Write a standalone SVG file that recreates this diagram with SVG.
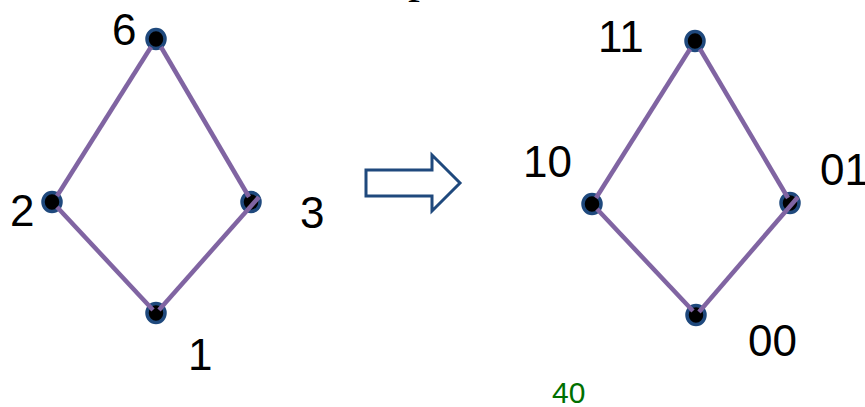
<svg xmlns="http://www.w3.org/2000/svg" width="865" height="407" viewBox="0 0 865 407">
<style>
.lbl{font-family:"Liberation Sans",Arial,sans-serif;font-size:44px;fill:#000}
.dot{fill:#000;stroke:#1F497D;stroke-width:3.5}
.edge{stroke:#8064A2;stroke-width:4.5;stroke-linecap:butt;fill:none}
</style>
<rect width="865" height="407" fill="#fff"/>
<text x="408" y="-8" style="font-family:'Liberation Serif','Times New Roman',serif;font-size:48px" fill="#000">p</text>
<g id="n6"><ellipse class="dot" cx="156" cy="39" rx="9" ry="9.5"/><text class="lbl" x="112" y="45">6</text></g>
<g id="n2"><ellipse class="dot" cx="52" cy="202" rx="9" ry="9.5"/><text class="lbl" x="10" y="226">2</text></g>
<g id="n3"><ellipse class="dot" cx="251" cy="202" rx="9" ry="9.5"/><text class="lbl" x="300" y="228">3</text></g>
<g id="n1"><ellipse class="dot" cx="156" cy="313" rx="9" ry="9.5"/><text class="lbl" x="188" y="370">1</text></g>
<g id="n11"><ellipse class="dot" cx="695" cy="41" rx="9" ry="9.5"/><text class="lbl" x="598" y="52">11</text></g>
<g id="n10"><ellipse class="dot" cx="592" cy="204" rx="9" ry="9.5"/><text class="lbl" x="523" y="177">10</text></g>
<g id="n01"><ellipse class="dot" cx="790" cy="203" rx="9" ry="9.5"/><text class="lbl" x="820" y="185">01</text></g>
<g id="n00"><ellipse class="dot" cx="696" cy="315" rx="9" ry="9.5"/><text class="lbl" x="748" y="356">00</text></g>
<g id="connectors">
<line class="edge" x1="151" y1="47" x2="57" y2="196"/>
<line class="edge" x1="161" y1="47" x2="249" y2="197"/>
<line class="edge" x1="259" y1="197" x2="159" y2="310"/>
<line class="edge" x1="57" y1="207" x2="153" y2="310"/>
<line class="edge" x1="690" y1="49" x2="596" y2="198"/>
<line class="edge" x1="700" y1="49" x2="788" y2="198"/>
<line class="edge" x1="798" y1="197" x2="699" y2="312"/>
<line class="edge" x1="597" y1="209" x2="693" y2="311"/>
</g>
<g id="arrow"><path d="M366,170 L432,170 L432,155 L460,183 L432,211 L432,196 L366,196 Z" fill="#fff" stroke="#1F497D" stroke-width="3"/></g>
<text x="552" y="403" style="font-family:'Liberation Sans',Arial,sans-serif;font-size:30px" fill="#007000">40</text>
</svg>
